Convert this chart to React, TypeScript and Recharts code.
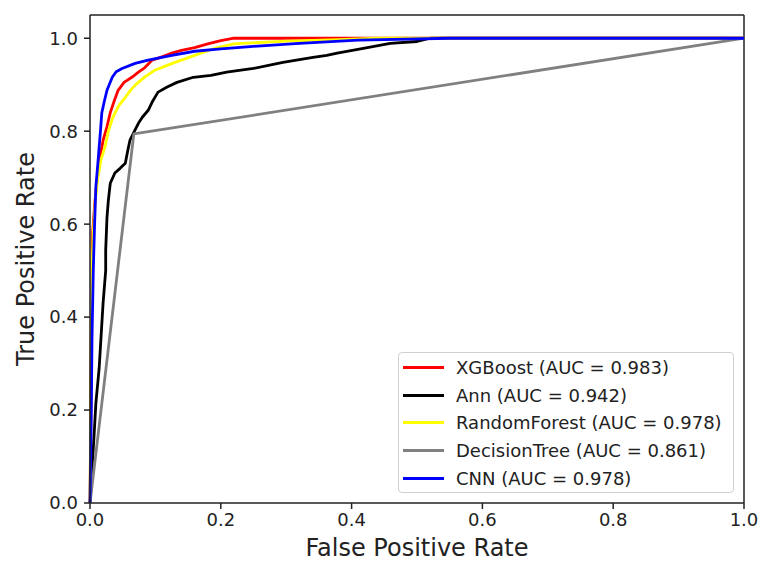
import { Line, LineChart, ReferenceLine, XAxis, YAxis } from "recharts";

type Pt = [number, number];

// ROC points: [false positive rate, true positive rate]
const xgboost: Pt[] = [
  [0, 0], [0.001, 0.15], [0.002, 0.35], [0.003, 0.5], [0.004, 0.58], [0.007, 0.64],
  [0.011, 0.7], [0.016, 0.75], [0.02, 0.78], [0.026, 0.81], [0.031, 0.84], [0.037, 0.865],
  [0.043, 0.888], [0.052, 0.905], [0.064, 0.916], [0.075, 0.928], [0.084, 0.937],
  [0.095, 0.953], [0.11, 0.96], [0.125, 0.968], [0.14, 0.974], [0.16, 0.98], [0.18, 0.988],
  [0.2, 0.995], [0.22, 1.0], [1, 1],
];

const ann: Pt[] = [
  [0, 0], [0.002, 0.04], [0.003, 0.07], [0.006, 0.14], [0.009, 0.215], [0.012, 0.26],
  [0.014, 0.29], [0.017, 0.36], [0.02, 0.43], [0.024, 0.5], [0.024, 0.544], [0.026, 0.615],
  [0.028, 0.65], [0.031, 0.688], [0.038, 0.71], [0.046, 0.72], [0.054, 0.731], [0.058, 0.76],
  [0.061, 0.78], [0.068, 0.8], [0.074, 0.817], [0.08, 0.83], [0.089, 0.845], [0.096, 0.865],
  [0.104, 0.884], [0.118, 0.895], [0.133, 0.905], [0.158, 0.916], [0.185, 0.92],
  [0.209, 0.927], [0.25, 0.935], [0.295, 0.948], [0.341, 0.959], [0.362, 0.963],
  [0.378, 0.968], [0.418, 0.978], [0.459, 0.989], [0.5, 0.993], [0.52, 1.0], [1, 1],
];

const randomForest: Pt[] = [
  [0, 0], [0.001, 0.2], [0.002, 0.4], [0.003, 0.5], [0.005, 0.58], [0.008, 0.65],
  [0.012, 0.7], [0.017, 0.74], [0.023, 0.766], [0.028, 0.8], [0.035, 0.83], [0.044, 0.855],
  [0.054, 0.873], [0.063, 0.89], [0.072, 0.903], [0.085, 0.918], [0.099, 0.931],
  [0.115, 0.94], [0.13, 0.948], [0.16, 0.963], [0.19, 0.978], [0.22, 0.988], [0.3, 0.994],
  [0.38, 0.997], [0.44, 1.0], [1, 1],
];

const decisionTree: Pt[] = [[0, 0], [0.067, 0.794], [1, 1]];

const cnn: Pt[] = [
  [0, 0], [0.001, 0.1], [0.002, 0.2], [0.003, 0.35], [0.005, 0.5], [0.007, 0.6],
  [0.009, 0.68], [0.012, 0.73], [0.014, 0.766], [0.016, 0.8], [0.018, 0.839], [0.022, 0.865],
  [0.026, 0.888], [0.034, 0.916], [0.04, 0.928], [0.049, 0.935], [0.069, 0.946],
  [0.089, 0.953], [0.125, 0.963], [0.16, 0.972], [0.2, 0.977], [0.245, 0.982], [0.32, 0.989],
  [0.41, 0.996], [0.55, 1.0], [1, 1],
];

const ticks = [0, 0.2, 0.4, 0.6, 0.8, 1.0];

const series = [
  { name: "XGBoost (AUC = 0.983)", color: "#ff0000", points: xgboost },
  { name: "Ann (AUC = 0.942)", color: "#000000", points: ann },
  { name: "RandomForest (AUC = 0.978)", color: "#ffff00", points: randomForest },
  { name: "DecisionTree (AUC = 0.861)", color: "#808080", points: decisionTree },
  { name: "CNN (AUC = 0.978)", color: "#0000ff", points: cnn },
];

const FONT = "'DejaVu Sans', sans-serif";
const tickStyle = { fontSize: 18, fill: "#222", fontFamily: FONT };

function RocLegend() {
  return (
    <div
      style={{
        position: "absolute",
        left: 398,
        top: 352,
        width: 336,
        height: 141,
        border: "1px solid #d0d0d0",
        borderRadius: 4,
        background: "rgba(255,255,255,0.85)",
        boxSizing: "border-box",
        paddingTop: 1,
        fontFamily: FONT,
        fontSize: 18,
        color: "#222",
      }}
    >
      {series.map((s) => (
        <div key={s.name} style={{ display: "flex", alignItems: "center", height: 27.6 }}>
          <span
            style={{ width: 41, height: 3, marginLeft: 4, marginRight: 12, background: s.color }}
          />
          <span style={{ whiteSpace: "nowrap" }}>{s.name}</span>
        </div>
      ))}
    </div>
  );
}

export default function App() {
  return (
    <div style={{ position: "absolute", left: 0, top: 0, width: 758, height: 563, background: "#fff" }}>
      <LineChart width={758} height={563} margin={{ top: 15, right: 14, bottom: 0, left: 0 }}>
        <XAxis
          type="number"
          dataKey="x"
          domain={[0, 1]}
          ticks={ticks}
          tickFormatter={(v: number) => v.toFixed(1)}
          tick={tickStyle}
          tickSize={6}
          tickMargin={4}
          height={60}
          stroke="#222"
          strokeWidth={1.5}
          allowDuplicatedCategory={false}
          label={{
            value: "False Positive Rate",
            position: "insideBottom",
            offset: 7,
            style: { fontSize: 24, fill: "#222", fontFamily: FONT, textAnchor: "middle" },
          }}
        />
        <YAxis
          type="number"
          domain={[0, 1.05]}
          ticks={ticks}
          tickFormatter={(v: number) => v.toFixed(1)}
          tick={tickStyle}
          tickSize={6}
          tickMargin={6}
          width={90}
          stroke="#222"
          strokeWidth={1.5}
          label={{
            value: "True Positive Rate",
            angle: -90,
            position: "insideLeft",
            offset: 25,
            style: { fontSize: 24, fill: "#222", fontFamily: FONT, textAnchor: "middle" },
          }}
        />
        {/* top and right spines */}
        <ReferenceLine y={1.05} stroke="#222" strokeWidth={1.5} ifOverflow="visible" />
        <ReferenceLine x={1} stroke="#222" strokeWidth={1.5} ifOverflow="visible" />
        {series.map((s) => (
          <Line
            key={s.name}
            name={s.name}
            data={s.points.map(([x, y]) => ({ x, y }))}
            dataKey="y"
            type="linear"
            stroke={s.color}
            strokeWidth={2.8}
            strokeLinejoin="round"
            dot={false}
            activeDot={false}
            isAnimationActive={false}
          />
        ))}
      </LineChart>
      <RocLegend />
    </div>
  );
}
